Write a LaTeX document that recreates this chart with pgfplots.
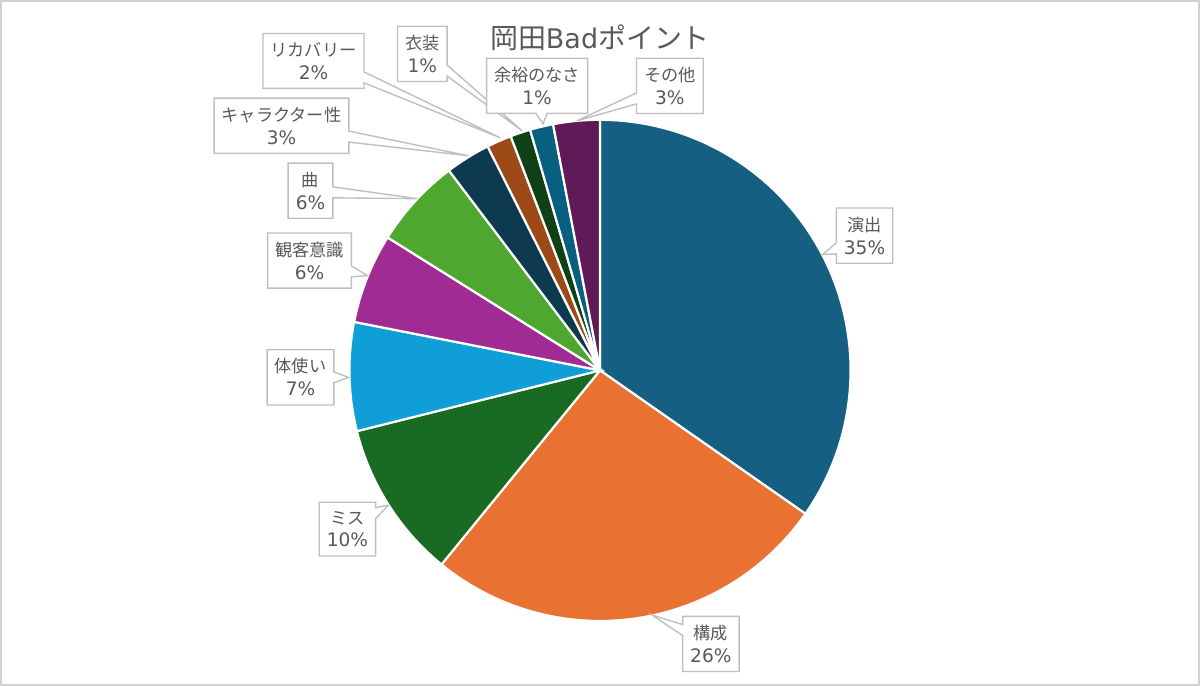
\documentclass[border=0pt]{standalone}
\usepackage{fontspec}
\setmainfont{Noto Sans CJK JP}
\newfontfamily\lat{DejaVu Sans}
\usepackage{pgfplots}
\pgfplotsset{compat=1.18}
\usetikzlibrary{shapes.callouts}
\definecolor{cA}{HTML}{156082}
\definecolor{cB}{HTML}{E97132}
\definecolor{cC}{HTML}{196B24}
\definecolor{cD}{HTML}{0F9ED5}
\definecolor{cE}{HTML}{A02B93}
\definecolor{cF}{HTML}{4EA72E}
\definecolor{cG}{HTML}{0D3A4E}
\definecolor{cH}{HTML}{9E4A18}
\definecolor{cI}{HTML}{0F4016}
\definecolor{cJ}{HTML}{095F80}
\definecolor{cK}{HTML}{601A58}
\definecolor{txt}{HTML}{595959}
\definecolor{boxc}{HTML}{BFBFBF}
\newcommand\pc[1]{{\lat\fontsize{9.3bp}{11bp}\selectfont #1\%}}
\tikzset{
  slice/.style={draw=white, line width=1.1bp, samples=60, variable=\t},
  lab/.style={rectangle callout, draw=boxc, line width=0.7bp, fill=white, text=txt,
    align=center, font=\fontsize{8.6bp}{11.5bp}\selectfont, inner xsep=3.8bp, inner ysep=4.4bp,
    callout pointer width=5.5bp},
}
\begin{document}
\begin{tikzpicture}
\begin{axis}[
  x=0.5bp, y=0.5bp,
  xmin=0, xmax=1200, ymin=0, ymax=685,
  y dir=reverse,
  axis lines=box, xtick=\empty, ytick=\empty,
  axis line style={draw=black!18, line width=1bp},
  clip=false,
]
% slices: cumulative percent bounds (values 34.7, 26.2, 10.2, 7.0, 5.8, 5.8, 2.9, 1.6, 1.3, 1.5, 3.0)
\addplot[slice, fill=cA, domain=0:34.7]  ({600+251*sin(3.6*\t)}, {370-251*cos(3.6*\t)}) -- (axis cs:600,370) -- cycle;
\addplot[slice, fill=cB, domain=34.7:60.9] ({600+251*sin(3.6*\t)}, {370-251*cos(3.6*\t)}) -- (axis cs:600,370) -- cycle;
\addplot[slice, fill=cC, domain=60.9:71.1] ({600+251*sin(3.6*\t)}, {370-251*cos(3.6*\t)}) -- (axis cs:600,370) -- cycle;
\addplot[slice, fill=cD, domain=71.1:78.1] ({600+251*sin(3.6*\t)}, {370-251*cos(3.6*\t)}) -- (axis cs:600,370) -- cycle;
\addplot[slice, fill=cE, domain=78.1:83.9] ({600+251*sin(3.6*\t)}, {370-251*cos(3.6*\t)}) -- (axis cs:600,370) -- cycle;
\addplot[slice, fill=cF, domain=83.9:89.7] ({600+251*sin(3.6*\t)}, {370-251*cos(3.6*\t)}) -- (axis cs:600,370) -- cycle;
\addplot[slice, fill=cG, domain=89.7:92.6] ({600+251*sin(3.6*\t)}, {370-251*cos(3.6*\t)}) -- (axis cs:600,370) -- cycle;
\addplot[slice, fill=cH, domain=92.6:94.2] ({600+251*sin(3.6*\t)}, {370-251*cos(3.6*\t)}) -- (axis cs:600,370) -- cycle;
\addplot[slice, fill=cI, domain=94.2:95.5] ({600+251*sin(3.6*\t)}, {370-251*cos(3.6*\t)}) -- (axis cs:600,370) -- cycle;
\addplot[slice, fill=cJ, domain=95.5:97.0] ({600+251*sin(3.6*\t)}, {370-251*cos(3.6*\t)}) -- (axis cs:600,370) -- cycle;
\addplot[slice, fill=cK, domain=97.0:100] ({600+251*sin(3.6*\t)}, {370-251*cos(3.6*\t)}) -- (axis cs:600,370) -- cycle;

% title
\node[text=txt, font=\fontsize{14bp}{16bp}\selectfont] at (axis cs:600,37) {岡田{\lat\fontsize{13.5bp}{16bp}\selectfont Bad}ポイント};

% data labels
\node[lab, callout absolute pointer={(axis cs:823,254)}] at (axis cs:865,235) {演出\\\pc{35}};
\node[lab, callout absolute pointer={(axis cs:652,615)}] at (axis cs:711,644) {構成\\\pc{26}};
\node[lab, callout absolute pointer={(axis cs:388,505)}] at (axis cs:347,529) {ミス\\\pc{10}};
\node[lab, callout absolute pointer={(axis cs:348,377)}] at (axis cs:300,377) {体使い\\\pc{7}};
\node[lab, callout absolute pointer={(axis cs:367,275)}] at (axis cs:309,260) {観客意識\\\pc{6}};
\node[lab, callout absolute pointer={(axis cs:417,198)}] at (axis cs:310,190) {曲\\\pc{6}};
\node[lab, callout absolute pointer={(axis cs:468,155)}] at (axis cs:281,125) {キャラクター性\\\pc{3}};
\node[lab, callout absolute pointer={(axis cs:500,137)}] at (axis cs:313,60) {リカバリー\\\pc{2}};
\node[lab, callout absolute pointer={(axis cs:522,130)}] at (axis cs:422,53) {衣装\\\pc{1}};
\node[lab, callout absolute pointer={(axis cs:543,123)}] at (axis cs:537,85) {余裕のなさ\\\pc{1}};
\node[lab, callout absolute pointer={(axis cs:577,120)}] at (axis cs:670,85) {その他\\\pc{3}};
\end{axis}
\end{tikzpicture}
\end{document}
